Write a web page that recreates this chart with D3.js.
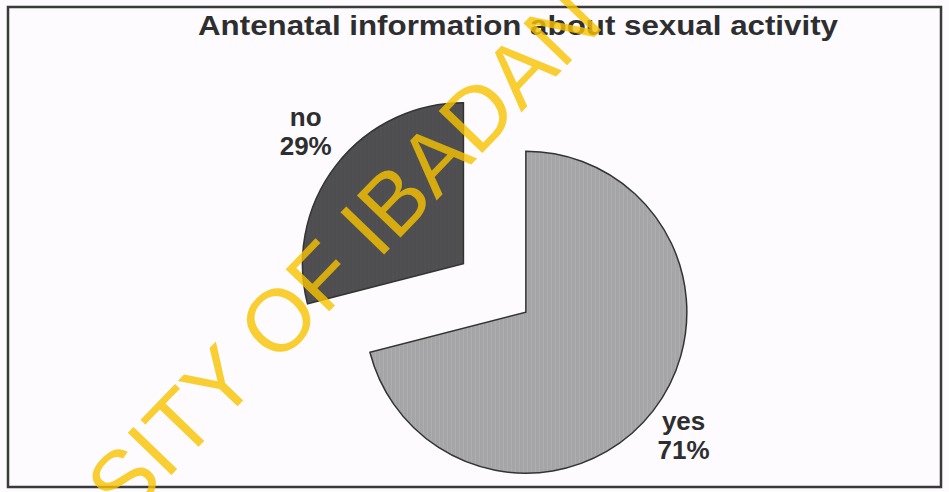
<!DOCTYPE html>
<html>
<head>
<meta charset="utf-8">
<script src="https://cdn.jsdelivr.net/npm/d3@7"></script>
<style>
  body { margin: 0; background: #fdfbfd; }
  svg { display: block; }
</style>
</head>
<body>
<div id="chart"></div>
<script>
// chart data
var categories = ["yes", "no"];
var values = [71, 29];
var percentLabels = ["71%", "29%"];
var explode = [15, 64];
var colors = ["#a5a5a7", "#4e4e50"];
var chartTitle = "Antenatal information about sexual activity";
var watermark = "SITY OF IBADAN";

let width = 949;
let height = 492;
let radius = 161;

var svg = d3.select('#chart')
    .append('svg')
    .attr('width', width)
    .attr('height', height);

var defs = svg.append('defs');

// scanned look: faint vertical streaks on the slices
colors.forEach(function (c, i) {
    var p = defs.append('pattern')
        .attr('id', 'tex' + i)
        .attr('patternUnits', 'userSpaceOnUse')
        .attr('width', 4)
        .attr('height', 4);
    p.append('rect').attr('width', 4).attr('height', 4).attr('fill', c);
    p.append('rect').attr('x', 1).attr('width', 0.6).attr('height', 4)
        .attr('fill', d3.color(c).brighter(0.25));
});

// frame
svg.append('rect')
    .attr('x', 8)
    .attr('y', 7)
    .attr('width', 933)
    .attr('height', 480)
    .attr('fill', 'none')
    .style('stroke', '#3a3a3a')
    .style('stroke-width', 2.5);

svg.append('text')
    .attr('x', 518)
    .attr('y', 35)
    .attr('text-anchor', 'middle')
    .attr('textLength', 640)
    .attr('lengthAdjust', 'spacingAndGlyphs')
    .style('font-family', '"Liberation Sans", Arial, sans-serif')
    .style('font-weight', 'bold')
    .style('font-size', '27px')
    .style('fill', '#2e2e30')
    .text(chartTitle);

var g = svg.append('g')
    .attr('transform', 'translate(514,303)');

var pie = d3.pie().sort(null).value(d => d.value);

var arc = d3.arc()
    .innerRadius(0)
    .outerRadius(radius);

var labelArc = d3.arc()
    .innerRadius(radius * 1.24)
    .outerRadius(radius * 1.24);

var rows = categories.map(function (c, i) {
    return { name: c, value: values[i], pct: percentLabels[i], explode: explode[i], idx: i };
});

var slices = g.selectAll('g.slice')
    .data(pie(rows))
    .enter().append('g')
    .attr('class', 'slice')
    .attr('transform', function (d) {
        var mid = (d.startAngle + d.endAngle) / 2;
        return 'translate(' + (Math.sin(mid) * d.data.explode) + ',' + (-Math.cos(mid) * d.data.explode) + ')';
    });

slices.append('path')
    .attr('d', arc)
    .style('fill', d => 'url(#tex' + d.data.idx + ')')
    .style('stroke', '#333')
    .style('stroke-width', 1.5);

var labels = slices.append('text')
    .attr('transform', d => 'translate(' + labelArc.centroid(d) + ')')
    .attr('text-anchor', 'middle')
    .style('font-family', '"Liberation Sans", Arial, sans-serif')
    .style('font-weight', 'bold')
    .style('font-size', '26px')
    .style('fill', '#2e2e30');

// labels above the centre sit a bit higher
function upper(d) { return Math.cos((d.startAngle + d.endAngle) / 2) > 0; }

labels.append('tspan').attr('x', 0).attr('y', d => upper(d) ? -15 : -5).text(d => d.data.name);
labels.append('tspan').attr('x', 0).attr('y', d => upper(d) ? 14 : 24).text(d => d.data.pct);

// library watermark across the scan
svg.append('text')
    .attr('transform', 'translate(125,523) rotate(-46)')
    .style('font-family', '"Liberation Sans", Arial, sans-serif')
    .style('font-size', '88px')
    .style('fill', '#f7c300')
    .style('fill-opacity', 0.8)
    .text(watermark);
</script>
</body>
</html>
